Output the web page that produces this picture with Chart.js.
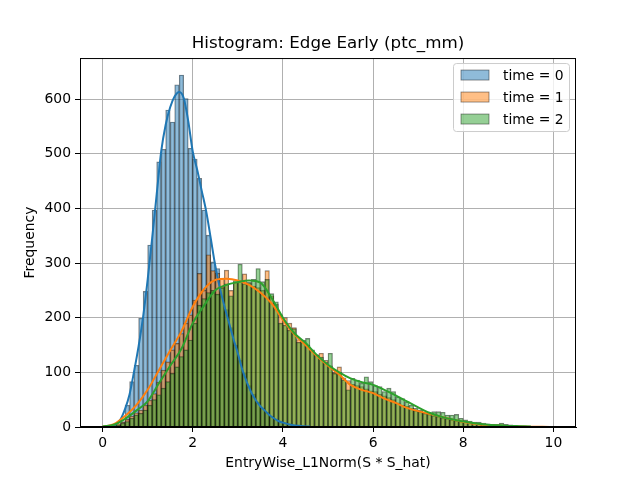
<!DOCTYPE html>
<html>
<head>
<meta charset="utf-8">
<script src="https://cdn.jsdelivr.net/npm/chart.js@4"></script>
<style>
  html, body { margin: 0; padding: 0; background: #fff; }
</style>
</head>
<body>
<canvas id="hist" width="640" height="480"></canvas>
<script>
// bin centres (width 0.1) and counts per time step
const binCenters = [
  0.05, 0.15, 0.25, 0.35, 0.45, 0.55, 0.65, 0.75, 0.85, 0.95,
  1.05, 1.15, 1.25, 1.35, 1.45, 1.55, 1.65, 1.75, 1.85, 1.95,
  2.05, 2.15, 2.25, 2.35, 2.45, 2.55, 2.65, 2.75, 2.85, 2.95,
  3.05, 3.15, 3.25, 3.35, 3.45, 3.55, 3.65, 3.75, 3.85, 3.95,
  4.05, 4.15, 4.25, 4.35, 4.45, 4.55, 4.65, 4.75, 4.85, 4.95,
  5.05, 5.15, 5.25, 5.35, 5.45, 5.55, 5.65, 5.75, 5.85, 5.95,
  6.05, 6.15, 6.25, 6.35, 6.45, 6.55, 6.65, 6.75, 6.85, 6.95,
  7.05, 7.15, 7.25, 7.35, 7.45, 7.55, 7.65, 7.75, 7.85, 7.95,
  8.05, 8.15, 8.25, 8.35, 8.45, 8.55, 8.65, 8.75, 8.85, 8.95,
  9.05, 9.15, 9.25, 9.35, 9.45, 9.55, 9.65, 9.75, 9.85, 9.95
];
const countsT0 = [
  null, null, 1, 3, 10, 40, 83, 113, 199, 248,
  333, 397, 485, 508, 580, 558, 626, 644, 601, 510,
  490, 455, 397, 351, 302, 290, 255, 215, 182, 150,
  122, 98, 76, 60, 46, 35, 27, 20, 15, 11,
  8, 6, 4, 3, 2, 1, 1, null, null, null,
  null, null, null, null, null, null, null, null, null, null,
  null, null, null, null, null, null, null, null, null, null,
  null, null, null, null, null, null, null, null, null, null,
  null, null, null, null, null, null, null, null, null, null,
  null, null, null, null, null, null, null, null, null, null
];
const countsT1 = [
  1, 2, 3, 6, 9, 14, 20, 26, 31, 40,
  49, 61, 82, 104, 119, 141, 153, 171, 190, 205,
  232, 281, 250, 315, 286, 281, 272, 287, 250, 265,
  268, 280, 263, 258, 255, 250, 286, 240, 225, 205,
  200, 190, 182, 160, 156, 150, 140, 132, 135, 122,
  112, 100, 110, 90, 85, 78, 76, 74, 70, 66,
  65, 60, 57, 54, 50, 44, 40, 38, 34, 30,
  28, 25, 23, 20, 19, 16, 15, 13, 11, 10,
  9, 8, 7, 6, 5, 5, 4, 3, 3, 3,
  2, 2, 1, 1, 1, 1, 1, 1, null, 1
];
const countsT2 = [
  1, 1, 2, 4, 7, 10, 16, 22, 25, 31,
  40, 50, 59, 71, 83, 98, 110, 129, 141, 159,
  190, 223, 235, 246, 250, 243, 255, 262, 240, 268,
  298, 262, 265, 270, 290, 266, 270, 244, 229, 190,
  186, 177, 180, 155, 159, 162, 141, 132, 128, 118,
  135, 98, 100, 86, 68, 89, 86, 80, 92, 83,
  76, 74, 65, 71, 65, 55, 52, 46, 40, 34,
  31, 25, 26, 28, 28, 27, 22, 22, 23, 16,
  13, 11, 9, 9, 7, 6, 5, 5, 7, 5,
  4, 3, 2, 2, 1, 1, 1, null, null, null
];

// kde curves
const kdeX0 = [0.2, 0.3, 0.4, 0.5, 0.6, 0.7, 0.8, 0.9, 1.0, 1.1, 1.2, 1.3, 1.4, 1.5, 1.6, 1.7, 1.8, 1.9, 2.0,
  2.1, 2.2, 2.3, 2.4, 2.5, 2.6, 2.7, 2.8, 2.9, 3.0, 3.1, 3.2, 3.3, 3.4, 3.5, 3.6, 3.7, 3.8, 3.9, 4.0, 4.2, 4.4, 4.6];
const kdeY0 = [1, 5, 14, 33, 60, 102, 148, 202, 269, 345, 425, 504, 553, 585, 605, 613, 602, 560, 504,
  470, 432, 394, 345, 295, 255, 222, 192, 162, 135, 105, 82, 63, 49, 38, 30, 22, 16, 11, 8, 3.5, 1.8, 0.8];
const kdeX = [0, 0.25, 0.5, 0.75, 1, 1.25, 1.5, 1.75, 2, 2.25, 2.5, 2.75, 3, 3.25, 3.5, 3.75, 4, 4.25, 4.5, 4.75,
  5, 5.25, 5.5, 5.75, 6, 6.25, 6.5, 6.75, 7, 7.25, 7.5, 7.75, 8, 8.25, 8.5, 8.75, 9, 9.25, 9.5, 9.75, 10];
const kdeY1 = [0.5, 5, 20, 40, 68, 104, 140, 175, 220, 252, 269, 271, 268, 260, 246, 226, 196, 170, 150, 130,
  112, 96, 77, 68, 62, 52, 44, 35, 29, 24, 19, 14, 9, 6, 3.5, 2.5, 1.5, 1, 0.6, 0.3, 0.2];
const kdeY2 = [1, 4, 15, 30, 47, 80, 112, 143, 190, 222, 250, 260, 265, 268, 264, 236, 200, 172, 154, 132,
  114, 100, 89, 82, 77, 68, 58, 47, 36, 26, 19, 14, 10, 7, 4.5, 3, 2, 1.5, 1, null, null];

const xTicks = [0, 2, 4, 6, 8, 10];
const yTicks = [0, 100, 200, 300, 400, 500, 600];
const seriesLabels = ['time = 0', 'time = 1', 'time = 2'];
const lineColors = ['#1f77b4', '#ff7f0e', '#2ca02c'];
const fillColors = ['rgba(31,119,180,0.5)', 'rgba(255,127,14,0.5)', 'rgba(44,160,44,0.5)'];

const FONT = "'DejaVu Sans', sans-serif";

function pts(xs, ys) {
  return xs.map((x, i) => ({x: x, y: ys[i]}));
}

function histSet(i, counts, order) {
  return {
    type: 'bar',
    label: seriesLabels[i],
    data: pts(binCenters, counts),
    backgroundColor: fillColors[i],
    borderColor: 'rgba(0,0,0,0.5)',
    borderWidth: 0.7,
    barPercentage: 1,
    categoryPercentage: 1,
    grouped: false,
    order: order
  };
}

function kdeSet(i, xs, ys, order) {
  return {
    type: 'line',
    label: seriesLabels[i] + ' kde',
    data: pts(xs, ys),
    borderColor: lineColors[i],
    borderWidth: 2,
    pointRadius: 0,
    fill: false,
    cubicInterpolationMode: 'monotone',
    order: order
  };
}

// frame + legend box like matplotlib
const framePlugin = {
  id: 'frameAndLegend',
  afterDraw(chart) {
    const {ctx, chartArea} = chart;
    ctx.save();
    ctx.strokeStyle = '#000';
    ctx.lineWidth = 1;
    ctx.strokeRect(chartArea.left + 0.5, chartArea.top + 0.5,
      chartArea.right - chartArea.left - 1, chartArea.bottom - chartArea.top - 1);

    const w = 116, h = 68;
    const bx = chartArea.right - 7 - w;
    const by = chartArea.top + 5;
    ctx.beginPath();
    ctx.roundRect(bx + 0.5, by + 0.5, w, h, 3);
    ctx.fillStyle = 'rgba(255,255,255,0.8)';
    ctx.fill();
    ctx.strokeStyle = '#cccccc';
    ctx.stroke();

    ctx.font = '13.9px ' + FONT;
    ctx.textBaseline = 'middle';
    ctx.textAlign = 'left';
    seriesLabels.forEach((lab, i) => {
      const cy = by + 12 + 22 * i;
      ctx.fillStyle = fillColors[i];
      ctx.fillRect(bx + 8, cy - 5, 28, 10);
      ctx.strokeStyle = 'rgba(0,0,0,0.5)';
      ctx.lineWidth = 0.8;
      ctx.strokeRect(bx + 8, cy - 5, 28, 10);
      ctx.fillStyle = '#000';
      ctx.fillText(lab, bx + 50, cy + 1);
    });
    ctx.restore();
  }
};

new Chart(document.getElementById('hist'), {
  type: 'bar',
  data: {
    datasets: [
      histSet(0, countsT0, 6),
      histSet(1, countsT1, 5),
      histSet(2, countsT2, 4),
      kdeSet(0, kdeX0, kdeY0, 3),
      kdeSet(1, kdeX, kdeY1, 2),
      kdeSet(2, kdeX, kdeY2, 1)
    ]
  },
  options: {
    responsive: false,
    animation: false,
    layout: { padding: { left: 0, right: 64, top: 0, bottom: 0 } },
    plugins: {
      legend: { display: false },
      tooltip: { enabled: false },
      title: {
        display: true,
        fullSize: false,
        text: 'Histogram: Edge Early (ptc_mm)',
        color: '#000',
        font: { family: FONT, size: 16.7, weight: 'normal' },
        padding: { top: 34, bottom: 4 }
      }
    },
    scales: {
      x: {
        type: 'linear',
        min: -0.5,
        max: 10.5,
        offset: false,
        z: 1,
        afterBuildTicks: (scale) => { scale.ticks = xTicks.map(v => ({value: v})); },
        afterFit: (scale) => { scale.height = 53; },
        grid: { offset: false, color: '#b0b0b0', lineWidth: 1, tickColor: '#000', tickLength: 5 },
        border: { color: '#000' },
        ticks: { color: '#000', padding: 3, maxRotation: 0, font: { family: FONT, size: 13.9 } },
        title: {
          display: true,
          text: 'EntryWise_L1Norm(S * S_hat)',
          color: '#000',
          font: { family: FONT, size: 13.9 },
          padding: { top: 0, bottom: 8 }
        }
      },
      y: {
        min: 0,
        max: 675,
        z: 1,
        afterBuildTicks: (scale) => { scale.ticks = yTicks.map(v => ({value: v})); },
        afterFit: (scale) => { scale.width = 80; },
        grid: { color: '#b0b0b0', lineWidth: 1, tickColor: '#000', tickLength: 5 },
        border: { color: '#000' },
        ticks: { color: '#000', padding: 4, font: { family: FONT, size: 13.9 } },
        title: {
          display: true,
          text: 'Frequency',
          color: '#000',
          font: { family: FONT, size: 13.9 },
          padding: { top: 21.7, bottom: 0 }
        }
      }
    }
  },
  plugins: [framePlugin]
});
</script>
</body>
</html>
